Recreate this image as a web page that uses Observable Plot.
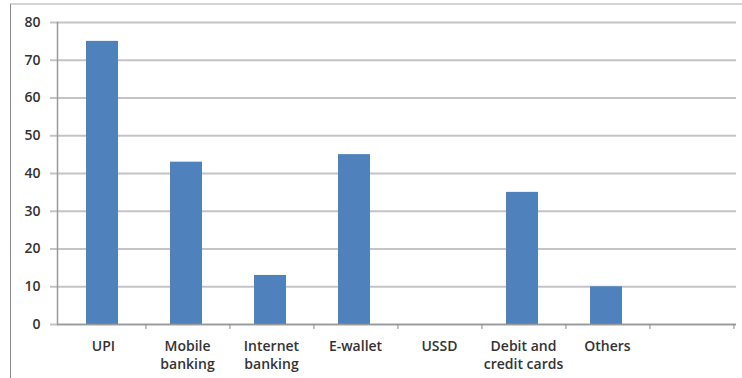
<!DOCTYPE html>
<html>
<head>
<meta charset="utf-8">
<script src="https://cdn.jsdelivr.net/npm/d3@7"></script>
<script src="https://cdn.jsdelivr.net/npm/@observablehq/plot@0.6"></script>
<style>
  html, body { margin: 0; padding: 0; background: #fff; }
  #wrap { position: relative; width: 742px; height: 378px; overflow: hidden; }
  #border { position: absolute; left: 10px; top: 3px; right: -5px; bottom: -5px;
            border-left: 1.5px solid #8a8a8a; border-top: 2px solid #d4d4d4; }
  #chart { position: absolute; left: 0; top: 0; }
</style>
</head>
<body>
<div id="wrap"><div id="border"></div><div id="chart"></div></div>
<script>
const categories = ["UPI", "Mobile banking", "Internet banking", "E-wallet", "USSD", "Debit and credit cards", "Others", ""];
const values = [75, 43, 13, 45, 0, 35, 10, null];
const tickLabels = ["UPI", "Mobile\nbanking", "Internet\nbanking", "E-wallet", "USSD", "Debit and\ncredit cards", "Others", ""];
const yTicks = [0, 10, 20, 30, 40, 50, 60, 70, 80];

const data = categories.map((c, i) => ({category: c, value: values[i]}));
const labelOf = new Map(categories.map((c, i) => [c, tickLabels[i]]));

const W = 742, H = 378, mL = 57, mR = 6, mT = 22, mB = 54;
const bw = (W - mL - mR) / categories.length;

const chart = Plot.plot({
  width: W,
  height: H,
  marginLeft: mL,
  marginRight: mR,
  marginTop: mT,
  marginBottom: mB,
  style: {fontFamily: "'Open Sans', sans-serif", fontSize: "14px", color: "#333", background: "transparent"},
  x: {domain: categories, padding: 0, label: null},
  y: {domain: [0, 80], label: null},
  marks: [
    Plot.gridY(yTicks, {stroke: "#c4c4c4", strokeOpacity: 1, strokeWidth: 2}),
    Plot.axisY(yTicks, {tickSize: 7, tickPadding: 10, stroke: "#c4c4c4", strokeWidth: 2, fill: "#333", fontWeight: 600, label: null}),
    Plot.barY(data.filter(d => d.value != null), {x: "category", y: "value", fill: "#4F81BD", insetLeft: 25, insetRight: 27}),
    Plot.ruleY([0], {stroke: "#9a9a9a", strokeWidth: 1.5}),
    Plot.frame({anchor: "left", stroke: "#9a9a9a", strokeWidth: 1.5}),
    Plot.axisX({tickSize: 5, text: null, stroke: "#8a8a8a", dx: bw / 2, label: null}),
    Plot.axisX({tickSize: 0, tickPadding: 14, tickFormat: d => labelOf.get(d), lineHeight: 1.29, fill: "#333", fontWeight: 600, label: null})
  ]
});
document.getElementById("chart").appendChild(chart);
</script>
</body>
</html>
